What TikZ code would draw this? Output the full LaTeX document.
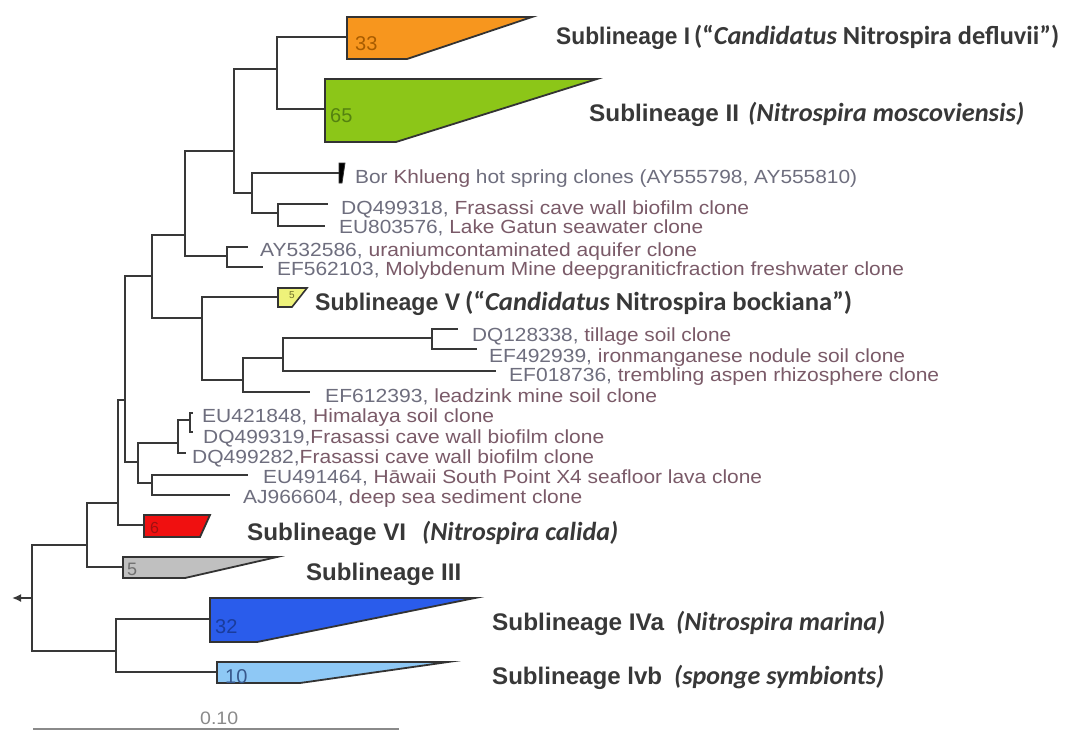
\documentclass[tikz,border=0pt]{standalone}
\usepackage{fontspec}
\setmainfont{Liberation Sans}
\newfontfamily\carl{Carlito}
\usepackage{graphicx}
\usetikzlibrary{arrows.meta}
\definecolor{brc}{HTML}{383838}
\definecolor{wedc}{HTML}{333333}
\definecolor{labc}{HTML}{383838}
\definecolor{acc}{HTML}{6E6E7E}
\definecolor{dsc}{HTML}{7A5A68}
\definecolor{orangew}{RGB}{247,150,30}
\definecolor{greenw}{RGB}{140,198,24}
\definecolor{yelw}{RGB}{238,242,122}
\definecolor{redw}{RGB}{240,16,16}
\definecolor{greyw}{RGB}{192,192,192}
\definecolor{bluew}{RGB}{42,92,235}
\definecolor{lbluew}{RGB}{142,200,245}
\definecolor{scalec}{HTML}{8A8A8A}
\newcommand{\lf}[3]{\resizebox{#1pt}{\height}{\textcolor{acc}{#2}\textcolor{dsc}{#3}}}
\newcommand{\fw}[2]{\resizebox{#1pt}{\height}{#2}}
\begin{document}
\begin{tikzpicture}[x=1pt,y=-1pt,
  br/.style={draw=brc, line width=2.1pt},
  wedge/.style={draw=wedc, line width=1.8pt, line join=miter, miter limit=30},
  leaf/.style={anchor=base west, inner sep=0pt, font=\fontsize{19}{22}\selectfont},
  subl/.style={anchor=base west, inner sep=0pt, text=labc, font=\fontsize{24}{28}\selectfont\bfseries},
  subp/.style={anchor=base west, inner sep=0pt, text=labc, font=\carl\fontsize{26}{30}\selectfont\bfseries},
  num/.style={anchor=base west, inner sep=0pt, font=\fontsize{20}{24}\selectfont}]
\fill[white] (0,0) rectangle (1076,731);
\useasboundingbox (0,0) rectangle (1076,731);

% ---- internal nodes (x of vertical bar, y of incoming link)
\coordinate (root) at (32,598);
\coordinate (rtip) at (12,598);
\coordinate (a) at (87,545);
\coordinate (iv) at (116,651);
\coordinate (b) at (118,503);
\coordinate (c) at (125,400);
\coordinate (d) at (152,276);
\coordinate (e) at (138,462);
\coordinate (f) at (178,443);
\coordinate (g) at (152,483);
\coordinate (h) at (190,420);
\coordinate (i) at (185,235);
\coordinate (j) at (234,151);
\coordinate (k) at (227,256);
\coordinate (l) at (277,69);
\coordinate (m) at (252,193);
\coordinate (n) at (278,213);
\coordinate (v) at (202,318);
\coordinate (o) at (243,380);
\coordinate (p) at (283,358);
\coordinate (q) at (432,338);
% ---- leaf tips
\coordinate (t2) at (328,204);
\coordinate (t3) at (325,226);
\coordinate (t4) at (248,247);
\coordinate (t5) at (263,267);
\coordinate (t6) at (458,329);
\coordinate (t7) at (477,349);
\coordinate (t8) at (496,371);
\coordinate (t9) at (310,392);
\coordinate (t10) at (193,413);
\coordinate (t11) at (193,432);
\coordinate (t12) at (186,453);
\coordinate (t13) at (248,475);
\coordinate (t14) at (230,495);
% ---- wedge attachment points
\coordinate (wO) at (347,37);
\coordinate (wGr) at (325,109);
\coordinate (wBor) at (340,173);
\coordinate (wV) at (278,297);
\coordinate (wR) at (144,525);
\coordinate (wG) at (123,567);
\coordinate (wB) at (210,619);
\coordinate (wLB) at (217,672);

% ---- branches
\draw[br, -{Latex[length=9pt,width=8pt]}] (root) -- (rtip);
\draw[br] (root) |- (a);  \draw[br] (root) |- (iv);
\draw[br] (iv) |- (wB);   \draw[br] (iv) |- (wLB);
\draw[br] (a) |- (b);     \draw[br] (a) |- (wG);
\draw[br] (b) |- (c);     \draw[br] (b) |- (wR);
\draw[br] (c) |- (d);     \draw[br] (c) |- (e);
\draw[br] (e) |- (f);     \draw[br] (e) |- (g);
\draw[br] (f) |- (h);     \draw[br] (f) |- (t12);
\draw[br] (h) |- (t10);   \draw[br] (h) |- (t11);
\draw[br] (g) |- (t13);   \draw[br] (g) |- (t14);
\draw[br] (d) |- (i);     \draw[br] (d) |- (v);
\draw[br] (i) |- (j);     \draw[br] (i) |- (k);
\draw[br] (k) |- (t4);    \draw[br] (k) |- (t5);
\draw[br] (j) |- (l);     \draw[br] (j) |- (m);
\draw[br] (l) |- (wO);    \draw[br] (l) |- (wGr);
\draw[br] (m) |- (wBor);  \draw[br] (m) |- (n);
\draw[br] (n) |- (t2);    \draw[br] (n) |- (t3);
\draw[br] (v) |- (wV);    \draw[br] (v) |- (o);
\draw[br] (o) |- (p);     \draw[br] (o) |- (t9);
\draw[br] (p) |- (q);     \draw[br] (p) |- (t8);
\draw[br] (q) |- (t6);    \draw[br] (q) |- (t7);

% ---- collapsed clades
\filldraw[wedge, fill=orangew] (347,17) -- (532,17) -- (407,59) -- (347,59) -- cycle;
\filldraw[wedge, fill=greenw] (325,79) -- (597,79) -- (396,142) -- (325,142) -- cycle;
\filldraw[wedge, fill=black, line width=0.8pt] (339,163) -- (345,163) -- (342,183) -- (339,183) -- cycle;
\filldraw[wedge, fill=yelw, line width=1.6pt] (278,288) -- (307,288) -- (292,307) -- (278,307) -- cycle;
\filldraw[wedge, fill=redw] (144,515) -- (210,515) -- (200,537) -- (144,537) -- cycle;
\filldraw[wedge, fill=greyw] (123,557) -- (277,557) -- (185,578) -- (123,578) -- cycle;
\filldraw[wedge, fill=bluew] (210,598) -- (475,598) -- (257,642) -- (210,642) -- cycle;
\filldraw[wedge, fill=lbluew] (217,662) -- (448,662) -- (300,683) -- (217,683) -- cycle;

% ---- clade counts
\node[num, text={rgb,255:red,168;green,92;blue,0}] (n33) at (355,50) {33};
\node[num, text={rgb,255:red,84;green,130;blue,16}] (n65) at (330,122) {65};
\node[num, text={rgb,255:red,110;green,110;blue,40}, font=\fontsize{10}{12}\selectfont] (n5v) at (289,298) {5};
\node[num, text={rgb,255:red,160;green,16;blue,16}, font=\fontsize{16}{18}\selectfont] (n6) at (150,533) {6};
\node[num, text={rgb,255:red,112;green,112;blue,112}, font=\fontsize{18}{20}\selectfont] (n5) at (127,575) {5};
\node[num, text={rgb,255:red,26;green,60;blue,156}] (n32) at (215,633) {32};
\node[num, text={rgb,255:red,56;green,88;blue,140}] (n10) at (225,683) {10};

% ---- leaf labels
\node[leaf] (L1) at (355,183) {\resizebox{502pt}{\height}{\textcolor{acc}{Bor }\textcolor{dsc}{Khlueng }\textcolor{acc}{hot spring clones (AY555798, AY555810)}}};
\node[leaf] (L2) at (341,214) {\lf{408}{DQ499318, }{Frasassi cave wall biofilm clone}};
\node[leaf] (L3) at (339,233) {\lf{364}{EU803576, }{Lake Gatun seawater clone}};
\node[leaf] (L4) at (260,256) {\lf{437}{AY532586, }{uraniumcontaminated aquifer clone}};
\node[leaf] (L5) at (277,275) {\lf{627}{EF562103, }{Molybdenum Mine deepgraniticfraction freshwater clone}};
\node[leaf] (L6) at (472,341) {\lf{259}{DQ128338, }{tillage soil clone}};
\node[leaf] (L7) at (489,362) {\lf{416}{EF492939, }{ironmanganese nodule soil clone}};
\node[leaf] (L8) at (509,381) {\lf{430}{EF018736, }{trembling aspen rhizosphere clone}};
\node[leaf] (L9) at (325,402) {\lf{332}{EF612393, }{leadzink mine soil clone}};
\node[leaf] (L10) at (202,422) {\lf{292}{EU421848, }{Himalaya soil clone}};
\node[leaf] (L11) at (203,443) {\lf{401}{DQ499319,}{Frasassi cave wall biofilm clone}};
\node[leaf] (L12) at (192,463) {\lf{402}{DQ499282,}{Frasassi cave wall biofilm clone}};
\node[leaf] (L13) at (263,483) {\lf{499}{EU491464, }{Hāwaii South Point X4 seafloor lava clone}};
\node[leaf] (L14) at (243,503) {\lf{339}{AJ966604, }{deep sea sediment clone}};

% ---- sublineage labels
\node[subl] (S1) at (556,44) {\fw{134}{Sublineage I}};
\node[subp] (S1p) at (694,44) {\fw{365}{(“\textit{Candidatus} Nitrospira defluvii”)}};
\node[subl] (S2) at (589,121) {\fw{150}{Sublineage II}};
\node[subp] (S2p) at (748,121) {\fw{276}{\itshape (Nitrospira moscoviensis)}};
\node[subl] (S5) at (315,310) {\fw{145}{Sublineage V}};
\node[subp] (S5p) at (465,310) {\fw{387}{(“\textit{Candidatus} Nitrospira bockiana”)}};
\node[subl] (S6) at (247,540) {\fw{159}{Sublineage VI}};
\node[subp] (S6p) at (422,540) {\fw{196}{\itshape (Nitrospira calida)}};
\node[subl] (S3) at (306,580) {\fw{155}{Sublineage III}};
\node[subl] (S4a) at (492,630) {\fw{172}{Sublineage IVa}};
\node[subp] (S4ap) at (676,630) {\fw{209}{\itshape (Nitrospira marina)}};
\node[subl] (S4b) at (492,684) {\fw{170}{Sublineage lvb}};
\node[subp] (S4bp) at (674,684) {\fw{210}{\itshape (sponge symbionts)}};

% ---- scale bar
\coordinate (sbL) at (33,729);
\coordinate (sbR) at (399,729);
\draw[draw=scalec, line width=1.5pt] (sbL) -- (sbR);
\node[anchor=base west, inner sep=0pt, text=scalec, font=\fontsize{18}{20}\selectfont] (sc) at (200,724) {\fw{38}{0.10}};
\end{tikzpicture}
\end{document}
